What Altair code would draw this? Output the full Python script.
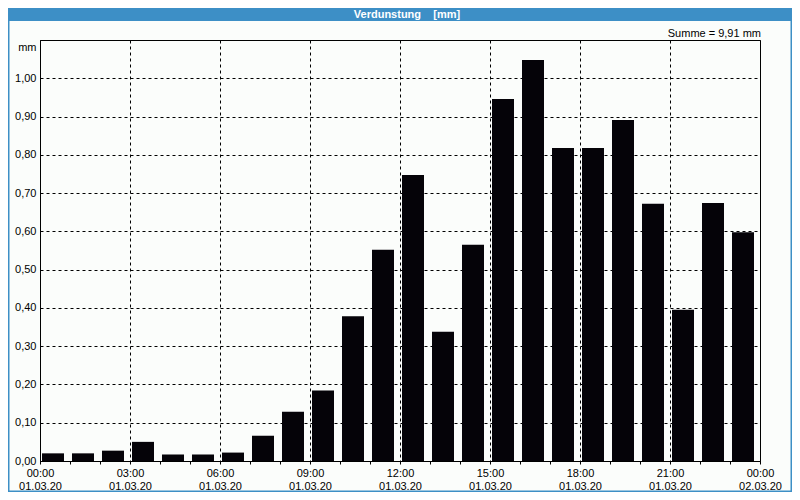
import altair as alt
import pandas as pd

# hourly evaporation values (mm), 01.03.20 00:00 .. 23:00
hours = list(range(24))
values = [0.020, 0.020, 0.027, 0.050, 0.017, 0.017, 0.022, 0.066,
          0.129, 0.184, 0.378, 0.552, 0.747, 0.338, 0.565, 0.946,
          1.048, 0.818, 0.818, 0.891, 0.672, 0.395, 0.674, 0.598]
y_ticks = [0.0, 0.1, 0.2, 0.3, 0.4, 0.5, 0.6, 0.7, 0.8, 0.9, 1.0]
x_ticks = list(range(25))
title_text = "Verdunstung\u00a0\u00a0\u00a0\u00a0[mm]"
sum_text = "Summe = 9,91 mm"

FONT = "Liberation Sans"
BLUE = "#3d8fc6"

df = pd.DataFrame({
    "start": [h + 0.0667 for h in hours],
    "end": [h + 0.8 for h in hours],
    "value": values,
})
one = pd.DataFrame({"a": [0]})

x_axis = alt.Axis(
    values=x_ticks,
    title=None,
    grid=True,
    gridDash=[3, 3],
    gridColor="black",
    gridOpacity={"condition": {"test": "datum.value % 3 !== 0", "value": 0}, "value": 1},
    tickSize=3,
    tickColor="black",
    domainColor="black",
    labelExpr="datum.value % 3 === 0 ? [(datum.value % 24 < 10 ? '0' : '') + (datum.value % 24) + ':00', datum.value < 24 ? '01.03.20' : '02.03.20'] : ''",
    labelLineHeight=13,
    labelPadding=3,
    labelFont=FONT,
    labelFontSize=11,
    labelColor="black",
    labelFlush=False,
    labelOverlap=False,
    labelBound=False,
)

y_axis = alt.Axis(
    values=y_ticks,
    title="mm",
    titleAngle=0,
    titleAlign="right",
    titleBaseline="alphabetic",
    titleX=-4,
    titleY=10,
    titleFont=FONT,
    titleFontSize=11,
    titleFontWeight="normal",
    titleColor="black",
    grid=True,
    gridDash=[3, 3],
    gridColor="black",
    ticks=False,
    domainColor="black",
    labelExpr="replace(format(datum.value, '.2f'), '.', ',')",
    labelPadding=4,
    labelFont=FONT,
    labelFontSize=11,
    labelColor="black",
)

bars = alt.Chart(df).mark_rect(color="#050308").encode(
    x=alt.X("start:Q", scale=alt.Scale(domain=[0, 24], nice=False, zero=False), axis=x_axis),
    x2="end:Q",
    y=alt.Y("value:Q", scale=alt.Scale(domain=[0, 1.1], nice=False), axis=y_axis),
)

band = alt.Chart(one).mark_rect(color=BLUE).encode(
    x=alt.value(-32), x2=alt.value(752), y=alt.value(-32), y2=alt.value(-19)
)

band_text = alt.Chart(one).mark_text(
    text=title_text, font=FONT, fontSize=11, fontWeight="bold", color="white",
    align="center", baseline="middle"
).encode(x=alt.value(367), y=alt.value(-25.5))

sum_label = alt.Chart(one).mark_text(
    text=sum_text, font=FONT, fontSize=11, color="black",
    align="right", baseline="alphabetic"
).encode(x=alt.value(721), y=alt.value(-3.5))

border = alt.Chart(one).mark_rect(filled=False, stroke=BLUE, strokeWidth=1.5).encode(
    x=alt.value(-31.25), x2=alt.value(751.25), y=alt.value(-31.25), y2=alt.value(451.25)
)

chart = alt.layer(bars, band, band_text, sum_label, border).properties(
    width=720,
    height=421,
    autosize=alt.AutoSizeParams(type="none"),
    padding={"left": 32, "top": 32, "right": 32, "bottom": 31},
    background="#fbfdfb",
).configure_view(stroke="black", strokeWidth=1)

chart.save("out.html", embed_options={"renderer": "svg", "actions": False})
